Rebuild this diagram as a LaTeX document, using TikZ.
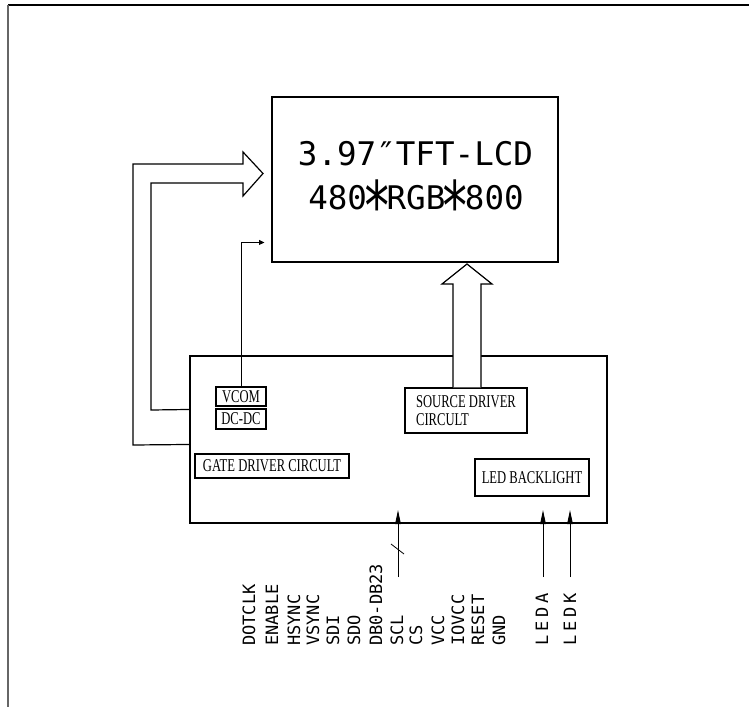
\documentclass[tikz,border=0pt]{standalone}
\usepackage{graphicx}
\usepackage{fontspec}
\setmainfont{Liberation Serif}
\newfontfamily\cadmono{DejaVu Sans Mono}
\newfontfamily\cadwide[LetterSpace=22]{DejaVu Sans Mono}
\newfontfamily\cadserif[FakeStretch=0.7]{Liberation Serif}
\newcommand\cadast{\makebox[0.602em]{\raisebox{-0.66em}{\scalebox{1.5}[2.1]{*}}}}
\usetikzlibrary{arrows.meta,calc}
\tikzset{
  box/.style={draw, line width=0.8pt, inner sep=0pt, align=center,
    font=\cadserif\fontsize{13.5pt}{13.5pt}\selectfont},
  titletext/.style={inner sep=0pt, anchor=base, font=\cadmono\fontsize{24.4pt}{24.4pt}\selectfont},
  sig/.style={inner sep=0pt, anchor=west, rotate=90,
    font=\cadmono\fontsize{12.75pt}{12.75pt}\selectfont},
  sigwide/.style={inner sep=0pt, anchor=west, rotate=90,
    font=\cadwide\fontsize{12.75pt}{12.75pt}\selectfont},
  hollow/.style={draw=black, line width=0.9pt, line join=miter},
  inarrow/.style={line width=0.7pt, -{Triangle[length=10.5pt,width=4.2pt]}},
  vcomarrow/.style={line width=0.7pt, -{Triangle[length=4pt,width=3.6pt]}},
}
\begin{document}
\begin{tikzpicture}[x=0.75pt,y=-0.75pt]
\useasboundingbox (0,0) rectangle (749,707);
% frame
\draw[line width=1.1pt] (8,5) -- (749,5);
\draw[line width=0.9pt, black!60] (8,5) -- (8,707);

% boxes
\node[box, minimum width=214.5pt, minimum height=123.75pt] (lcd) at (415,179.5) {};
\node[titletext] (t1) at (415.5,165) {3.97″TFT-LCD};
\node[titletext] (t2) at (416,209) {480\cadast RGB\cadast 800};

\node[box, minimum width=312.75pt, minimum height=125.25pt] (main) at (398.5,439.5) {};
\node[box, minimum width=37.5pt, minimum height=14.25pt] (vcom) at (241,396.5) {VCOM};
\node[box, minimum width=37.5pt, minimum height=15pt] (dcdc) at (241,419) {DC-DC};
\node[box, minimum width=115.5pt, minimum height=18pt] (gate) at (272,466) {GATE DRIVER CIRCULT};
\node[box, minimum width=91.5pt, minimum height=33.75pt, align=left] (src) at (466,410.5) {SOURCE DRIVER\\CIRCULT};
\node[box, minimum width=85.5pt, minimum height=27.75pt] (led) at (532,477.5) {LED BACKLIGHT};

% hollow gate arrow
\draw[hollow] ($(main.north west)+(0,89)$) -- (133,445) -- (133,164) -- (243,164)
  -- (243,152) -- (263,173.5) -- (243,196) -- (243,183) -- (151,183) -- (151,410)
  -- ($(main.north west)+(0,54)$);

% VCOM line
\draw[vcomarrow] (vcom.north) |- ($(lcd.north west)+(-7,146)$);

% source driver hollow arrow
\filldraw[hollow, fill=white] ($(src.north)+(-13,0)$) -- (453,284) -- (442,284)
  -- (467,264) -- (492,284) -- (481,284) -- ($(src.north)+(15,0)$);

% input arrows
\coordinate (dbin) at (398,577);
\coordinate (dbtip) at (398,510);
\coordinate (ledain) at (543,577);
\coordinate (ledatip) at (543,510);
\coordinate (ledkin) at (570,577);
\coordinate (ledktip) at (570,510);
\draw[inarrow] (dbin) -- (dbtip);
\draw[inarrow] (ledain) -- (ledatip);
\draw[inarrow] (ledkin) -- (ledktip);
\draw[line width=0.6pt] (391,544) -- (404,554);

% signal labels
\node[sig] (s1) at (249,646) {DOTCLK};
\node[sig] (s2) at (272,646) {ENABLE};
\node[sig] (s3) at (294,646) {HSYNC};
\node[sig] (s4) at (313,646) {VSYNC};
\node[sig] (s5) at (333,646) {SDI};
\node[sig] (s6) at (354,646) {SDO};
\node[sig] (s7) at (376,646) {DB0-DB23};
\node[sig] (s8) at (397,646) {SCL};
\node[sig] (s9) at (416,646) {CS};
\node[sig] (s10) at (438,646) {VCC};
\node[sig] (s11) at (458,646) {IOVCC};
\node[sig] (s12) at (478,646) {RESET};
\node[sig] (s13) at (499,646) {GND};
\node[sigwide] (s14) at (542,646) {LEDA};
\node[sigwide] (s15) at (570,646) {LEDK};
\end{tikzpicture}
\end{document}
